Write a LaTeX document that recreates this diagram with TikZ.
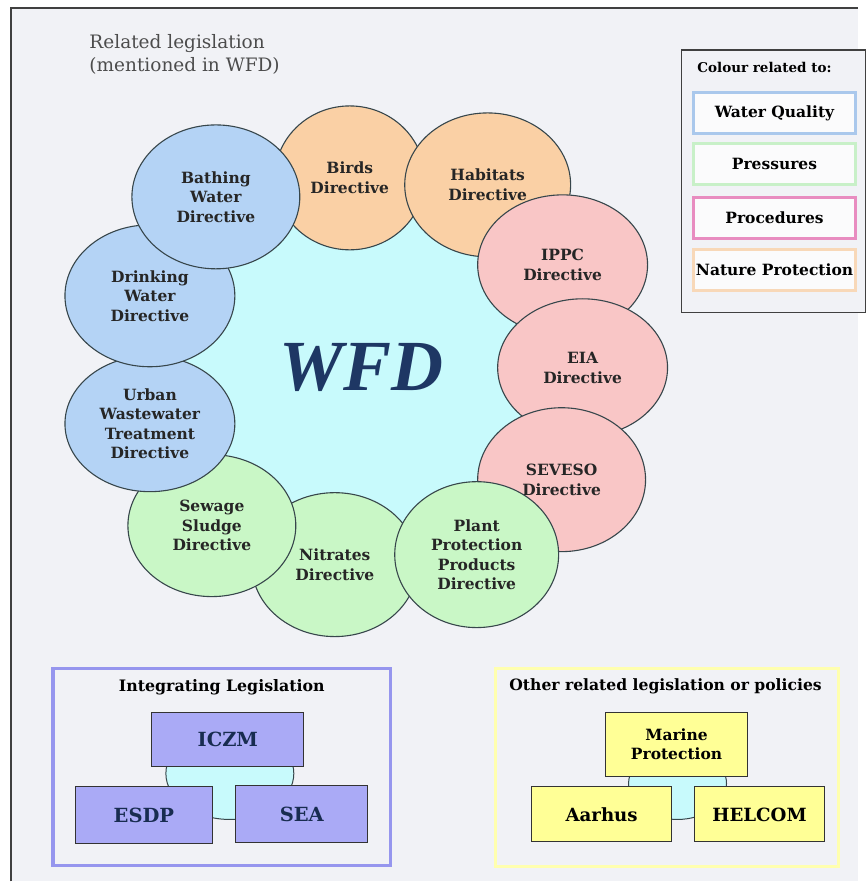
\documentclass[tikz,border=0pt]{standalone}
\usepackage{fontspec}
\setmainfont{DejaVu Serif}
\newfontfamily\timesfont{Liberation Serif}
\usepackage{tikz}
\usetikzlibrary{shapes.geometric}
\definecolor{pagebg}{RGB}{241,242,246}
\definecolor{coreblue}{RGB}{200,250,252}
\definecolor{waterblue}{RGB}{180,211,245}
\definecolor{naturepeach}{RGB}{250,208,165}
\definecolor{procpink}{RGB}{249,198,198}
\definecolor{pressgreen}{RGB}{201,247,198}
\definecolor{ringedge}{RGB}{55,70,75}
\definecolor{wfdnavy}{RGB}{30,55,100}
\definecolor{intlav}{RGB}{170,170,246}
\definecolor{intframe}{RGB}{150,150,238}
\definecolor{othyellow}{RGB}{255,255,150}
\definecolor{othframe}{RGB}{255,255,175}
\definecolor{legblue}{RGB}{170,200,236}
\definecolor{leggreen}{RGB}{200,240,200}
\definecolor{legpink}{RGB}{232,140,192}
\definecolor{legpeach}{RGB}{248,216,184}

\begin{document}
\begin{tikzpicture}[
  x=1pt, y=-1pt,
  dir/.style={ellipse, draw=ringedge, line width=1.1pt, inner sep=0pt,
    align=center, text=black!85,
    font=\bfseries\fontsize{15.5}{19.5}\selectfont},
  dwater/.style={dir, fill=waterblue},
  dnature/.style={dir, fill=naturepeach},
  dproc/.style={dir, fill=procpink},
  dpress/.style={dir, fill=pressgreen},
  legitem/.style={draw, line width=3pt, fill=white!70!pagebg,
    minimum width=163pt, minimum height=41pt, inner sep=0pt,
    font=\bfseries\fontsize{15.5}{16}\selectfont},
  frame/.style={line width=3.5pt},
  lawbox/.style={draw=black!80, line width=1pt, inner sep=0pt, align=center,
    font=\bfseries\fontsize{19.5}{20}\selectfont},
  blob/.style={ellipse, draw=ringedge, line width=1pt, fill=coreblue, inner sep=0pt}
]

% page
\fill[white] (0,0) rectangle (859,882);
\fill[pagebg] (11,8) rectangle (859,882);
\draw[black!75, line width=1.2pt] (11,882) -- (11,8) -- (859,8);

\node[anchor=north west, align=left, text=black!70,
  font=\fontsize{18.5}{23}\selectfont] (title) at (86,31)
  {Related legislation\\(mentioned in WFD)};

% WFD ring
\node[circle, fill=coreblue, minimum size=350pt, inner sep=0pt] (core) at (360,380) {};
\node[text=wfdnavy, font=\timesfont\bfseries\itshape\fontsize{72}{72}\selectfont] (wfd) at (362,368) {WFD};

\node[dnature, minimum width=150pt, minimum height=144pt] (birds) at (350,178) {Birds\\Directive};
\node[dnature, minimum width=166pt, minimum height=144pt] (habitats) at (488,185) {Habitats\\Directive};
\node[dproc, minimum width=170pt, minimum height=140pt] (ippc) at (563,265) {IPPC\\Directive};
\node[dproc, minimum width=170pt, minimum height=138pt] (eia) at (583,368) {EIA\\Directive};
\node[dproc, minimum width=168pt, minimum height=144pt] (seveso) at (562,480) {SEVESO\\Directive};
\node[dpress, minimum width=166pt, minimum height=144pt] (nitrates) at (335,565) {Nitrates\\Directive};
\node[dpress, minimum width=164pt, minimum height=146pt] (plant) at (477,555) {Plant\\Protection\\Products\\Directive};
\node[dpress, minimum width=168pt, minimum height=142pt] (sewage) at (212,526) {Sewage\\Sludge\\Directive};
\node[dwater, minimum width=170pt, minimum height=136pt] (urban) at (150,424) {Urban\\Wastewater\\Treatment\\Directive};
\node[dwater, minimum width=170pt, minimum height=142pt] (drinking) at (150,296) {Drinking\\Water\\Directive};
\node[dwater, minimum width=168pt, minimum height=144pt] (bathing) at (216,197) {Bathing\\Water\\Directive};

% legend
\draw[black!75, line width=1.2pt, fill=pagebg] (682,50) rectangle (866,313);
\node[font=\bfseries\fontsize{13.5}{14}\selectfont] (legtitle) at (765,68) {Colour related to:};
\node[legitem, draw=legblue] (legwater) at (775,113) {Water Quality};
\node[legitem, draw=leggreen] (legpress) at (775,164) {Pressures};
\node[legitem, draw=legpink] (legproc) at (775,218) {Procedures};
\node[legitem, draw=legpeach] (legnature) at (775,270) {Nature Protection};

% integrating legislation
\draw[frame, draw=intframe] (53,669) rectangle (391,866);
\node[font=\bfseries\fontsize{15.8}{16}\selectfont] (inttitle) at (222,688) {Integrating Legislation};
\node[blob, minimum width=128pt, minimum height=92pt] (intblob) at (230,774) {};
\node[lawbox, fill=intlav, text=wfdnavy!80!black, minimum width=152pt, minimum height=55pt] (iczm) at (228,740) {ICZM};
\node[lawbox, fill=intlav, text=wfdnavy!80!black, minimum width=137pt, minimum height=57pt] (esdp) at (144,816) {ESDP};
\node[lawbox, fill=intlav, text=wfdnavy!80!black, minimum width=132pt, minimum height=57pt] (sea) at (302,815) {SEA};

% other legislation
\draw[frame, draw=othframe] (496,669) rectangle (839,867);
\node[font=\bfseries\fontsize{15.6}{16}\selectfont] (othtitle) at (666,687) {Other related legislation or policies};
\node[blob, minimum width=98pt, minimum height=72pt] (othblob) at (678,784) {};
\node[lawbox, fill=othyellow, minimum width=142pt, minimum height=65pt,
  font=\bfseries\fontsize{15.5}{19}\selectfont] (marine) at (677,745) {Marine\\Protection};
\node[lawbox, fill=othyellow, minimum width=140pt, minimum height=55pt,
  font=\bfseries\fontsize{18.2}{20}\selectfont] (aarhus) at (602,815) {Aarhus};
\node[lawbox, fill=othyellow, minimum width=131pt, minimum height=55pt,
  font=\bfseries\fontsize{18.2}{20}\selectfont] (helcom) at (760,815) {HELCOM};

\useasboundingbox (0,0) rectangle (859,882);
\end{tikzpicture}
\end{document}
